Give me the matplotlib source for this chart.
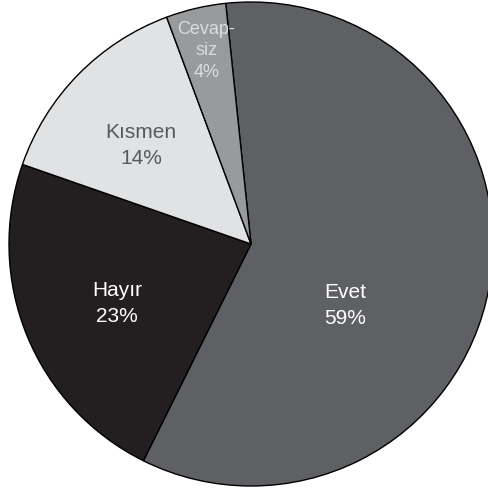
import numpy as np
import matplotlib
matplotlib.use("Agg")
import matplotlib.pyplot as plt

# answer shares (%), clockwise from the top
categories = ["Evet", "Hayır", "Kısmen", "Cevap-\nsiz"]
shares = [59, 23, 14, 4]

colors = ["#5f6063", "#231f20", "#e1e2e3", "#999a9c"]
text_colors = ["white", "white", "#58595b", "#dcdddf"]
# label placement: (radius, angle in degrees)
label_pos = [(0.465, -33), (0.605, 204), (0.61, 138), (0.82, 103)]

fig = plt.figure(figsize=(4.89, 4.88), dpi=100)
ax = fig.add_axes([0, 0, 1, 1])

wedges, _ = ax.pie(shares, colors=colors, startangle=96, counterclock=False,
                   wedgeprops=dict(edgecolor="black", linewidth=1.0))

for lab, val, (r, a), tc in zip(categories, shares, label_pos, text_colors):
    t = np.deg2rad(a)
    small = "\n" in lab
    ax.text(r * np.cos(t), r * np.sin(t), f"{lab}\n{val}%", color=tc,
            ha="center", va="center", fontsize=13 if small else 15,
            linespacing=1.35 if small else 1.45, family="Liberation Sans")

ax.set_xlim(-251 / 242, 238 / 242)
ax.set_ylim(-244 / 242, 244 / 242)
ax.set_aspect("auto")
ax.axis("off")

fig.savefig("out.png", dpi=100, facecolor="white")
